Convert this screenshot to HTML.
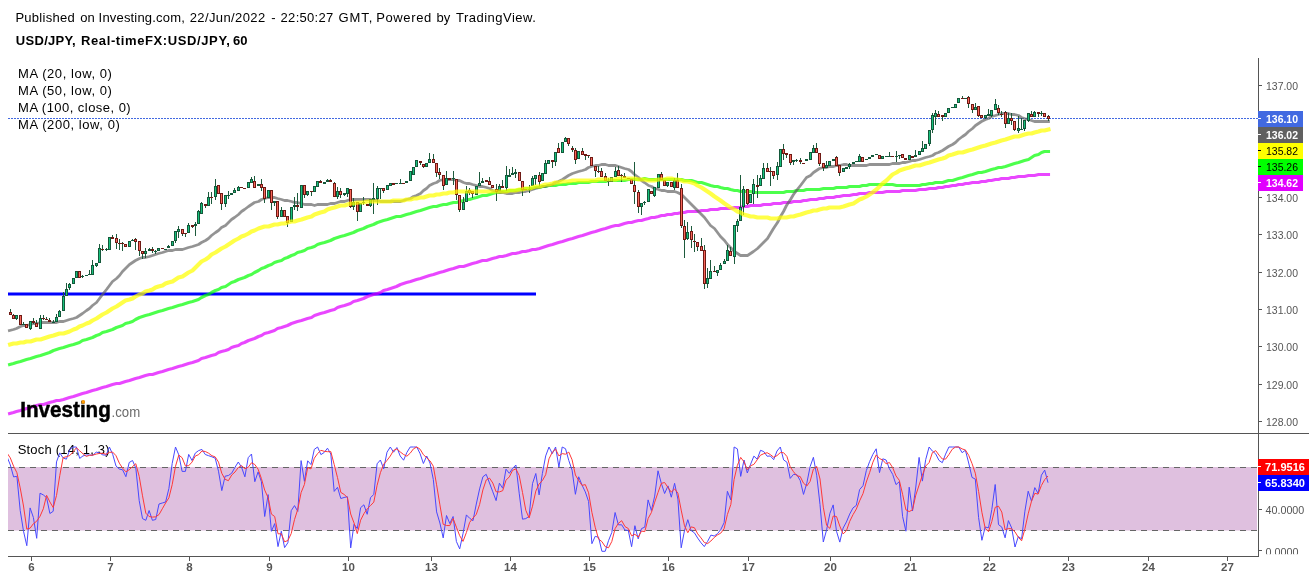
<!DOCTYPE html><html><head><meta charset="utf-8"><title>USD/JPY</title>
<style>html,body{margin:0;padding:0;background:#fff;overflow:hidden}svg{display:block}text{font-family:"Liberation Sans",Arial,sans-serif}</style></head><body>
<svg width="1316" height="580" viewBox="0 0 1316 580">
<rect width="1316" height="580" fill="#fff"/>
<text y="22" font-size="13" fill="#000"><tspan x="15.4" letter-spacing="0.28">Published </tspan><tspan x="80.2" letter-spacing="0.00">on </tspan><tspan x="98.6" letter-spacing="0.18">Investing.com, </tspan><tspan x="189.7" letter-spacing="0.39">22/Jun/2022 </tspan><tspan x="271.3" letter-spacing="1.00">- </tspan><tspan x="280.6" letter-spacing="0.29">22:50:27 </tspan><tspan x="338.5" letter-spacing="0.95">GMT, </tspan><tspan x="376.2" letter-spacing="0.62">Powered </tspan><tspan x="436.5" letter-spacing="0.00">by </tspan><tspan x="456.0" letter-spacing="0.49">TradingView.</tspan></text>
<text y="45" font-size="13" font-weight="bold" fill="#000"><tspan x="15.8" letter-spacing="0.3">USD/JPY, </tspan><tspan x="81" letter-spacing="0.61">Real-timeFX:USD/JPY, </tspan><tspan x="233.1">60</tspan></text>
<rect x="8" y="467" width="1249" height="63.5" fill="#dfc0df"/>
<path d="M8 467.5H1257M8 530.5H1257" stroke="#666" stroke-width="1" stroke-dasharray="6 5" fill="none"/>
<path d="M8 118.5H1258" stroke="#4169e1" stroke-width="1" stroke-dasharray="2 1" fill="none" shape-rendering="crispEdges"/>
<path d="M8 294H536" stroke="#0000ff" stroke-width="3" fill="none"/>
<path d="M9.6 364.5L13.5 363.5L16.5 362.5L20.5 361.5L23.5 360.5L26.5 359.5L30.5 358.5L33.5 357.5L36.5 356.5L40.5 355.5L43.5 354.5L46.5 353.5L49.5 352.5L53.5 350.5L56.5 349.5L59.5 348.5L63.5 347.5L66.5 346.5L69.5 345.5L73.5 344.5L76.5 343.5L79.5 342.5L82.5 340.5L86.5 339.5L89.5 338.5L92.5 337.5L96.5 335.5L99.5 334.5L102.5 332.5L106.5 331.5L109.5 330.5L112.5 329.5L116.5 327.5L119.5 326.5L122.5 325.5L125.5 323.5L129.5 322.5L132.5 321.5L135.5 319.5L139.5 317.5L142.5 316.5L145.5 315.5L149.5 314.5L152.5 313.5L155.5 312.5L158.5 311.5L162.5 310.5L165.5 309.5L168.5 308.5L172.5 307.5L175.5 306.5L178.5 305.5L182.5 304.5L185.5 303.5L188.5 302.5L192.5 301.5L195.5 300.5L198.5 299.5L201.5 297.5L205.5 295.5L208.5 294.5L211.5 292.5L215.5 290.5L218.5 289.5L221.5 287.5L225.5 286.5L228.5 284.5L231.5 282.5L234.5 281.5L238.5 279.5L241.5 278.5L244.5 277.5L248.5 275.5L251.5 274.5L254.5 272.5L258.5 270.5L261.5 268.5L264.5 267.5L268.5 265.5L271.5 264.5L274.5 262.5L277.5 261.5L281.5 260.5L284.5 258.5L287.5 257.5L291.5 255.5L294.5 254.5L297.5 252.5L301.5 251.5L304.5 250.5L307.5 248.5L311.5 247.5L314.5 246.5L317.5 244.5L320.5 243.5L324.5 242.5L327.5 241.5L330.5 240.5L334.5 238.5L337.5 237.5L340.5 236.5L344.5 235.5L347.5 234.5L350.5 233.5L353.5 232.5L357.5 230.5L360.5 229.5L363.5 228.5L367.5 226.5L370.5 225.5L373.5 224.5L377.5 222.5L380.5 221.5L383.5 220.5L387.5 219.5L390.5 218.5L393.5 217.5L396.5 216.5L400.5 216.5L403.5 215.5L406.5 214.5L410.5 213.5L413.5 212.5L416.5 211.5L420.5 210.5L423.5 209.5L426.5 208.5L429.5 207.5L433.5 206.5L436.5 206.5L439.5 205.5L443.5 204.5L446.5 204.5L449.5 203.5L453.5 202.5L456.5 202.5L459.5 201.5L463.5 200.5L466.5 199.5L469.5 199.5L472.5 198.5L476.5 197.5L479.5 196.5L482.5 195.5L486.5 195.5L489.5 194.5L492.5 193.5L496.5 192.5L499.5 192.5L502.5 191.5L506.5 191.5L509.5 190.5L512.5 190.5L515.5 190.5L519.5 189.5L522.5 189.5L525.5 188.5L529.5 188.5L532.5 188.5L535.5 187.5L539.5 187.5L542.5 186.5L545.5 186.5L548.5 185.5L552.5 185.5L555.5 185.5L558.5 184.5L562.5 184.5L565.5 184.5L568.5 183.5L572.5 183.5L575.5 183.5L578.5 182.5L582.5 182.5L585.5 182.5L588.5 182.5L591.5 181.5L595.5 181.5L598.5 181.5L601.5 181.5L605.5 181.5L608.5 180.5L611.5 180.5L615.5 180.5L618.5 180.5L621.5 180.5L624.5 180.5L628.5 179.5L631.5 179.5L634.5 179.5L638.5 179.5L641.5 179.5L644.5 178.5L648.5 179.5L651.5 179.5L654.5 179.5L658.5 179.5L661.5 179.5L664.5 179.5L667.5 179.5L671.5 179.5L674.5 179.5L677.5 179.5L681.5 179.5L684.5 180.5L687.5 180.5L691.5 180.5L694.5 181.5L697.5 182.5L701.5 182.5L704.5 183.5L707.5 184.5L710.5 185.5L714.5 186.5L717.5 186.5L720.5 187.5L724.5 188.5L727.5 188.5L730.5 189.5L734.5 190.5L737.5 190.5L740.5 191.5L743.5 191.5L747.5 191.5L750.5 191.5L753.5 192.5L757.5 192.5L760.5 192.5L763.5 192.5L767.5 192.5L770.5 192.5L773.5 192.5L777.5 192.5L780.5 192.5L783.5 192.5L786.5 191.5L790.5 191.5L793.5 191.5L796.5 190.5L800.5 190.5L803.5 190.5L806.5 189.5L810.5 189.5L813.5 189.5L816.5 189.5L819.5 189.5L823.5 188.5L826.5 188.5L829.5 188.5L833.5 188.5L836.5 187.5L839.5 187.5L843.5 187.5L846.5 187.5L849.5 186.5L853.5 186.5L856.5 186.5L859.5 186.5L862.5 185.5L866.5 185.5L869.5 184.5L872.5 184.5L876.5 184.5L879.5 184.5L882.5 184.5L886.5 184.5L889.5 184.5L892.5 184.5L896.5 185.5L899.5 185.5L902.5 185.5L905.5 185.5L909.5 185.5L912.5 185.5L915.5 185.5L919.5 185.5L922.5 184.5L925.5 184.5L929.5 183.5L932.5 183.5L935.5 182.5L938.5 182.5L942.5 182.5L945.5 181.5L948.5 180.5L952.5 180.5L955.5 179.5L958.5 178.5L962.5 177.5L965.5 176.5L968.5 175.5L972.5 174.5L975.5 173.5L978.5 172.5L981.5 172.5L985.5 171.5L988.5 170.5L991.5 169.5L995.5 168.5L998.5 167.5L1001.5 167.5L1005.5 166.5L1008.5 165.5L1011.5 164.5L1014.5 163.5L1018.5 162.5L1021.5 161.5L1024.5 160.5L1028.5 159.5L1031.5 157.5L1034.5 155.5L1038.5 154.5L1041.5 152.5L1044.5 151.5L1048.5 151.5" stroke="#00ff00" stroke-width="3.1" fill="none" stroke-linejoin="round" stroke-linecap="square" opacity="0.7"/>
<path d="M9.6 413.5L13.5 412.5L16.5 411.5L20.5 410.5L23.5 409.5L26.5 408.5L30.5 407.5L33.5 406.5L36.5 405.5L40.5 404.5L43.5 404.5L46.5 403.5L49.5 402.5L53.5 401.5L56.5 400.5L59.5 400.5L63.5 399.5L66.5 398.5L69.5 397.5L73.5 396.5L76.5 395.5L79.5 394.5L82.5 393.5L86.5 392.5L89.5 391.5L92.5 390.5L96.5 389.5L99.5 388.5L102.5 387.5L106.5 386.5L109.5 385.5L112.5 384.5L116.5 383.5L119.5 383.5L122.5 382.5L125.5 381.5L129.5 380.5L132.5 379.5L135.5 378.5L139.5 377.5L142.5 376.5L145.5 375.5L149.5 374.5L152.5 374.5L155.5 373.5L158.5 372.5L162.5 371.5L165.5 370.5L168.5 369.5L172.5 368.5L175.5 367.5L178.5 366.5L182.5 365.5L185.5 364.5L188.5 363.5L192.5 362.5L195.5 361.5L198.5 360.5L201.5 358.5L205.5 357.5L208.5 356.5L211.5 355.5L215.5 354.5L218.5 352.5L221.5 351.5L225.5 350.5L228.5 349.5L231.5 347.5L234.5 346.5L238.5 345.5L241.5 343.5L244.5 342.5L248.5 340.5L251.5 339.5L254.5 338.5L258.5 336.5L261.5 335.5L264.5 333.5L268.5 332.5L271.5 331.5L274.5 330.5L277.5 328.5L281.5 327.5L284.5 326.5L287.5 325.5L291.5 323.5L294.5 322.5L297.5 321.5L301.5 320.5L304.5 319.5L307.5 318.5L311.5 317.5L314.5 315.5L317.5 314.5L320.5 313.5L324.5 312.5L327.5 311.5L330.5 310.5L334.5 309.5L337.5 307.5L340.5 306.5L344.5 305.5L347.5 304.5L350.5 303.5L353.5 301.5L357.5 300.5L360.5 299.5L363.5 298.5L367.5 296.5L370.5 295.5L373.5 294.5L377.5 293.5L380.5 292.5L383.5 290.5L387.5 289.5L390.5 288.5L393.5 287.5L396.5 286.5L400.5 284.5L403.5 283.5L406.5 282.5L410.5 281.5L413.5 280.5L416.5 279.5L420.5 278.5L423.5 277.5L426.5 276.5L429.5 275.5L433.5 274.5L436.5 273.5L439.5 272.5L443.5 271.5L446.5 270.5L449.5 269.5L453.5 268.5L456.5 267.5L459.5 266.5L463.5 266.5L466.5 265.5L469.5 264.5L472.5 263.5L476.5 262.5L479.5 261.5L482.5 260.5L486.5 260.5L489.5 259.5L492.5 258.5L496.5 257.5L499.5 256.5L502.5 256.5L506.5 255.5L509.5 254.5L512.5 253.5L515.5 253.5L519.5 252.5L522.5 251.5L525.5 251.5L529.5 250.5L532.5 249.5L535.5 249.5L539.5 248.5L542.5 247.5L545.5 246.5L548.5 245.5L552.5 244.5L555.5 243.5L558.5 242.5L562.5 241.5L565.5 240.5L568.5 239.5L572.5 238.5L575.5 237.5L578.5 236.5L582.5 235.5L585.5 234.5L588.5 233.5L591.5 232.5L595.5 231.5L598.5 230.5L601.5 229.5L605.5 228.5L608.5 227.5L611.5 226.5L615.5 225.5L618.5 225.5L621.5 224.5L624.5 223.5L628.5 222.5L631.5 222.5L634.5 221.5L638.5 220.5L641.5 220.5L644.5 219.5L648.5 218.5L651.5 217.5L654.5 217.5L658.5 216.5L661.5 215.5L664.5 215.5L667.5 214.5L671.5 214.5L674.5 213.5L677.5 213.5L681.5 212.5L684.5 212.5L687.5 211.5L691.5 211.5L694.5 211.5L697.5 211.5L701.5 210.5L704.5 210.5L707.5 210.5L710.5 209.5L714.5 209.5L717.5 209.5L720.5 208.5L724.5 208.5L727.5 208.5L730.5 208.5L734.5 207.5L737.5 207.5L740.5 207.5L743.5 206.5L747.5 206.5L750.5 205.5L753.5 205.5L757.5 205.5L760.5 205.5L763.5 204.5L767.5 204.5L770.5 204.5L773.5 203.5L777.5 203.5L780.5 203.5L783.5 202.5L786.5 202.5L790.5 202.5L793.5 201.5L796.5 201.5L800.5 201.5L803.5 200.5L806.5 200.5L810.5 199.5L813.5 199.5L816.5 199.5L819.5 198.5L823.5 198.5L826.5 197.5L829.5 197.5L833.5 197.5L836.5 196.5L839.5 196.5L843.5 195.5L846.5 195.5L849.5 195.5L853.5 194.5L856.5 194.5L859.5 193.5L862.5 193.5L866.5 193.5L869.5 192.5L872.5 192.5L876.5 192.5L879.5 192.5L882.5 192.5L886.5 191.5L889.5 191.5L892.5 191.5L896.5 191.5L899.5 191.5L902.5 190.5L905.5 190.5L909.5 190.5L912.5 190.5L915.5 190.5L919.5 189.5L922.5 189.5L925.5 189.5L929.5 188.5L932.5 188.5L935.5 188.5L938.5 187.5L942.5 187.5L945.5 186.5L948.5 186.5L952.5 185.5L955.5 185.5L958.5 184.5L962.5 184.5L965.5 183.5L968.5 183.5L972.5 182.5L975.5 182.5L978.5 182.5L981.5 181.5L985.5 181.5L988.5 180.5L991.5 180.5L995.5 179.5L998.5 179.5L1001.5 178.5L1005.5 178.5L1008.5 178.5L1011.5 177.5L1014.5 177.5L1018.5 176.5L1021.5 176.5L1024.5 176.5L1028.5 175.5L1031.5 175.5L1034.5 175.5L1038.5 174.5L1041.5 174.5L1044.5 174.5L1048.5 174.5" stroke="#e100ff" stroke-width="3.1" fill="none" stroke-linejoin="round" stroke-linecap="square" opacity="0.72"/>
<path d="M9.4 330.5L13.5 329.5L16.5 328.5L20.5 326.5L23.5 325.5L26.5 325.5L30.5 324.5L33.5 323.5L36.5 323.5L40.5 322.5L43.5 322.5L46.5 322.5L49.5 322.5L53.5 322.5L56.5 322.5L59.5 321.5L63.5 321.5L66.5 320.5L69.5 319.5L73.5 318.5L76.5 317.5L79.5 315.5L82.5 313.5L86.5 310.5L89.5 308.5L92.5 305.5L96.5 302.5L99.5 298.5L102.5 294.5L106.5 289.5L109.5 285.5L112.5 281.5L116.5 278.5L119.5 275.5L122.5 271.5L125.5 268.5L129.5 264.5L132.5 262.5L135.5 260.5L139.5 258.5L142.5 257.5L145.5 257.5L149.5 256.5L152.5 255.5L155.5 254.5L158.5 253.5L162.5 252.5L165.5 251.5L168.5 250.5L172.5 250.5L175.5 249.5L178.5 249.5L182.5 249.5L185.5 248.5L188.5 247.5L192.5 246.5L195.5 245.5L198.5 244.5L201.5 242.5L205.5 240.5L208.5 238.5L211.5 235.5L215.5 232.5L218.5 230.5L221.5 227.5L225.5 225.5L228.5 222.5L231.5 219.5L234.5 217.5L238.5 214.5L241.5 211.5L244.5 209.5L248.5 206.5L251.5 204.5L254.5 202.5L258.5 201.5L261.5 199.5L264.5 198.5L268.5 197.5L271.5 197.5L274.5 197.5L277.5 198.5L281.5 199.5L284.5 200.5L287.5 200.5L291.5 201.5L294.5 202.5L297.5 202.5L301.5 203.5L304.5 204.5L307.5 204.5L311.5 204.5L314.5 205.5L317.5 204.5L320.5 204.5L324.5 204.5L327.5 204.5L330.5 203.5L334.5 203.5L337.5 202.5L340.5 201.5L344.5 201.5L347.5 200.5L350.5 199.5L353.5 199.5L357.5 199.5L360.5 199.5L363.5 199.5L367.5 199.5L370.5 199.5L373.5 200.5L377.5 200.5L380.5 201.5L383.5 201.5L387.5 201.5L390.5 201.5L393.5 201.5L396.5 201.5L400.5 201.5L403.5 200.5L406.5 199.5L410.5 198.5L413.5 196.5L416.5 195.5L420.5 193.5L423.5 190.5L426.5 188.5L429.5 185.5L433.5 183.5L436.5 182.5L439.5 180.5L443.5 179.5L446.5 179.5L449.5 179.5L453.5 179.5L456.5 180.5L459.5 180.5L463.5 182.5L466.5 183.5L469.5 183.5L472.5 184.5L476.5 185.5L479.5 186.5L482.5 186.5L486.5 187.5L489.5 188.5L492.5 190.5L496.5 191.5L499.5 192.5L502.5 192.5L506.5 193.5L509.5 193.5L512.5 193.5L515.5 192.5L519.5 192.5L522.5 191.5L525.5 191.5L529.5 190.5L532.5 189.5L535.5 188.5L539.5 187.5L542.5 186.5L545.5 186.5L548.5 185.5L552.5 184.5L555.5 182.5L558.5 181.5L562.5 179.5L565.5 177.5L568.5 175.5L572.5 173.5L575.5 172.5L578.5 171.5L582.5 170.5L585.5 169.5L588.5 167.5L591.5 166.5L595.5 165.5L598.5 165.5L601.5 164.5L605.5 164.5L608.5 165.5L611.5 165.5L615.5 165.5L618.5 166.5L621.5 167.5L624.5 168.5L628.5 169.5L631.5 171.5L634.5 174.5L638.5 177.5L641.5 180.5L644.5 182.5L648.5 185.5L651.5 186.5L654.5 188.5L658.5 189.5L661.5 190.5L664.5 190.5L667.5 191.5L671.5 191.5L674.5 191.5L677.5 192.5L681.5 194.5L684.5 197.5L687.5 200.5L691.5 204.5L694.5 207.5L697.5 210.5L701.5 214.5L704.5 217.5L707.5 221.5L710.5 225.5L714.5 228.5L717.5 232.5L720.5 236.5L724.5 240.5L727.5 244.5L730.5 247.5L734.5 251.5L737.5 253.5L740.5 255.5L743.5 255.5L747.5 255.5L750.5 253.5L753.5 251.5L757.5 248.5L760.5 245.5L763.5 242.5L767.5 238.5L770.5 233.5L773.5 228.5L777.5 222.5L780.5 216.5L783.5 211.5L786.5 205.5L790.5 199.5L793.5 194.5L796.5 190.5L800.5 185.5L803.5 181.5L806.5 177.5L810.5 175.5L813.5 172.5L816.5 170.5L819.5 168.5L823.5 167.5L826.5 167.5L829.5 166.5L833.5 166.5L836.5 165.5L839.5 165.5L843.5 164.5L846.5 164.5L849.5 165.5L853.5 165.5L856.5 165.5L859.5 165.5L862.5 165.5L866.5 165.5L869.5 164.5L872.5 164.5L876.5 164.5L879.5 164.5L882.5 164.5L886.5 164.5L889.5 164.5L892.5 163.5L896.5 163.5L899.5 163.5L902.5 162.5L905.5 162.5L909.5 161.5L912.5 160.5L915.5 160.5L919.5 159.5L922.5 158.5L925.5 157.5L929.5 156.5L932.5 155.5L935.5 153.5L938.5 152.5L942.5 150.5L945.5 148.5L948.5 146.5L952.5 144.5L955.5 142.5L958.5 139.5L962.5 136.5L965.5 134.5L968.5 131.5L972.5 128.5L975.5 125.5L978.5 123.5L981.5 121.5L985.5 119.5L988.5 118.5L991.5 116.5L995.5 115.5L998.5 114.5L1001.5 113.5L1005.5 113.5L1008.5 113.5L1011.5 114.5L1014.5 114.5L1018.5 115.5L1021.5 117.5L1024.5 118.5L1028.5 119.5L1031.5 120.5L1034.5 121.5L1038.5 121.5L1041.5 121.5L1044.5 121.5L1048.5 121.5" stroke="#606060" stroke-width="2.8" fill="none" stroke-linejoin="round" stroke-linecap="square" opacity="0.68"/>
<path d="M10 309h1v6h-1zM13 314h1v5h-1zM16 315h1v5h-1zM20 315h1v10h-1zM23 322h1v3h-1zM26 324h1v4h-1zM30 321h1v9h-1zM33 318h1v6h-1zM36 320h1v7h-1zM40 315h1v14h-1zM43 315h1v5h-1zM46 317h1v3h-1zM49 318h1v4h-1zM53 320h1v3h-1zM56 314h1v8h-1zM59 310h1v7h-1zM63 292h1v19h-1zM66 283h1v13h-1zM69 283h1v7h-1zM73 278h1v6h-1zM76 271h1v7h-1zM79 271h1v7h-1zM82 275h1v3h-1zM86 275h1v1h-1zM89 270h1v5h-1zM92 260h1v15h-1zM96 263h1v4h-1zM99 244h1v19h-1zM102 245h1v6h-1zM106 248h1v3h-1zM109 237h1v13h-1zM112 235h1v4h-1zM116 234h1v15h-1zM119 239h1v11h-1zM122 242h1v9h-1zM125 244h1v3h-1zM129 241h1v6h-1zM132 239h1v2h-1zM135 238h1v12h-1zM139 241h1v15h-1zM142 251h1v8h-1zM145 248h1v10h-1zM149 248h1v3h-1zM152 247h1v6h-1zM155 250h1v4h-1zM158 248h1v3h-1zM162 248h1v1h-1zM165 249h1v1h-1zM168 245h1v3h-1zM172 241h1v5h-1zM175 231h1v12h-1zM178 226h1v12h-1zM182 229h1v7h-1zM185 233h1v4h-1zM188 223h1v10h-1zM192 225h1v3h-1zM195 222h1v14h-1zM198 210h1v14h-1zM201 202h1v12h-1zM205 204h1v4h-1zM208 192h1v14h-1zM211 192h1v12h-1zM215 179h1v21h-1zM218 185h1v9h-1zM221 193h1v17h-1zM225 195h1v12h-1zM228 191h1v8h-1zM231 193h1v2h-1zM234 188h1v5h-1zM238 186h1v5h-1zM241 187h1v1h-1zM244 188h1v1h-1zM248 182h1v6h-1zM251 177h1v6h-1zM254 176h1v12h-1zM258 184h1v2h-1zM261 179h1v12h-1zM264 187h1v16h-1zM268 190h1v8h-1zM271 190h1v20h-1zM274 201h1v5h-1zM277 201h1v18h-1zM281 207h1v10h-1zM284 210h1v7h-1zM287 216h1v11h-1zM291 207h1v15h-1zM294 197h1v13h-1zM297 193h1v18h-1zM301 185h1v23h-1zM304 185h1v13h-1zM307 191h1v5h-1zM311 191h1v5h-1zM314 186h1v6h-1zM317 181h1v6h-1zM320 180h1v3h-1zM324 182h1v2h-1zM327 179h1v3h-1zM330 179h1v3h-1zM334 182h1v15h-1zM337 187h1v12h-1zM340 188h1v10h-1zM344 193h1v3h-1zM347 188h1v9h-1zM350 189h1v19h-1zM353 198h1v12h-1zM357 202h1v19h-1zM360 203h1v9h-1zM363 197h1v8h-1zM367 204h1v2h-1zM370 199h1v8h-1zM373 183h1v31h-1zM377 186h1v19h-1zM380 188h1v11h-1zM383 188h1v5h-1zM387 185h1v5h-1zM390 183h1v3h-1zM393 183h1v2h-1zM396 183h1v1h-1zM400 179h1v5h-1zM403 183h1v1h-1zM406 181h1v2h-1zM410 171h1v10h-1zM413 167h1v8h-1zM416 160h1v7h-1zM420 161h1v4h-1zM423 164h1v4h-1zM426 163h1v4h-1zM429 153h1v10h-1zM433 154h1v9h-1zM436 163h1v14h-1zM439 168h1v11h-1zM443 175h1v15h-1zM446 171h1v14h-1zM449 178h1v2h-1zM453 171h1v14h-1zM456 179h1v21h-1zM459 195h1v17h-1zM463 197h1v13h-1zM466 186h1v16h-1zM469 188h1v7h-1zM472 191h1v7h-1zM476 186h1v9h-1zM479 172h1v14h-1zM482 178h1v5h-1zM486 180h1v2h-1zM489 177h1v8h-1zM492 185h1v3h-1zM496 184h1v17h-1zM499 184h1v7h-1zM502 180h1v8h-1zM506 166h1v25h-1zM509 169h1v8h-1zM512 167h1v8h-1zM515 169h1v9h-1zM519 172h1v9h-1zM522 181h1v15h-1zM525 189h1v1h-1zM529 185h1v8h-1zM532 176h1v10h-1zM535 175h1v10h-1zM539 172h1v14h-1zM542 173h1v8h-1zM545 160h1v14h-1zM548 160h1v4h-1zM552 160h1v8h-1zM555 152h1v14h-1zM558 143h1v10h-1zM562 142h1v11h-1zM565 137h1v5h-1zM568 138h1v8h-1zM572 146h1v6h-1zM575 148h1v16h-1zM578 151h1v8h-1zM582 148h1v7h-1zM585 154h1v6h-1zM588 155h1v3h-1zM591 157h1v9h-1zM595 166h1v11h-1zM598 166h1v7h-1zM601 168h1v9h-1zM605 173h1v8h-1zM608 178h1v8h-1zM611 177h1v5h-1zM615 167h1v10h-1zM618 166h1v10h-1zM621 174h1v8h-1zM624 173h1v5h-1zM628 178h1v1h-1zM631 179h1v5h-1zM634 162h1v42h-1zM638 190h1v23h-1zM641 203h1v12h-1zM644 201h1v4h-1zM648 189h1v13h-1zM651 191h1v3h-1zM654 187h1v10h-1zM658 174h1v14h-1zM661 172h1v8h-1zM664 180h1v6h-1zM667 182h1v5h-1zM671 182h1v5h-1zM674 178h1v12h-1zM677 173h1v15h-1zM681 184h1v44h-1zM684 220h1v38h-1zM687 222h1v18h-1zM691 226h1v22h-1zM694 234h1v18h-1zM697 242h1v9h-1zM701 238h1v13h-1zM704 245h1v44h-1zM707 268h1v20h-1zM710 260h1v19h-1zM714 266h1v6h-1zM717 270h1v6h-1zM720 263h1v7h-1zM724 259h1v5h-1zM727 245h1v16h-1zM730 247h1v9h-1zM734 225h1v39h-1zM737 219h1v13h-1zM740 175h1v46h-1zM743 186h1v29h-1zM747 189h1v16h-1zM750 194h1v9h-1zM753 179h1v25h-1zM757 175h1v23h-1zM760 175h1v11h-1zM763 163h1v16h-1zM767 163h1v9h-1zM770 167h1v19h-1zM773 171h1v8h-1zM777 162h1v18h-1zM780 149h1v18h-1zM783 144h1v16h-1zM786 153h1v5h-1zM790 154h1v11h-1zM793 160h1v5h-1zM796 159h1v3h-1zM800 158h1v6h-1zM803 163h1v1h-1zM806 159h1v2h-1zM810 152h1v8h-1zM813 145h1v8h-1zM816 143h1v10h-1zM819 153h1v13h-1zM823 163h1v8h-1zM826 161h1v7h-1zM829 161h1v5h-1zM833 159h1v2h-1zM836 156h1v10h-1zM839 165h1v11h-1zM843 168h1v4h-1zM846 167h1v2h-1zM849 163h1v6h-1zM853 162h1v2h-1zM856 161h1v1h-1zM859 154h1v8h-1zM862 157h1v5h-1zM866 159h1v1h-1zM869 157h1v2h-1zM872 155h1v2h-1zM876 154h1v1h-1zM879 155h1v4h-1zM882 156h1v3h-1zM886 156h1v1h-1zM889 152h1v5h-1zM892 156h1v1h-1zM896 151h1v11h-1zM899 155h1v4h-1zM902 154h1v4h-1zM905 158h1v2h-1zM909 155h1v5h-1zM912 156h1v2h-1zM915 150h1v7h-1zM919 151h1v4h-1zM922 141h1v11h-1zM925 144h1v5h-1zM929 130h1v16h-1zM932 113h1v20h-1zM935 110h1v15h-1zM938 111h1v6h-1zM942 115h1v6h-1zM945 113h1v4h-1zM948 108h1v5h-1zM952 107h1v1h-1zM955 104h1v4h-1zM958 98h1v5h-1zM962 96h1v3h-1zM965 98h1v1h-1zM968 96h1v12h-1zM972 104h1v9h-1zM975 103h1v7h-1zM978 106h1v11h-1zM981 115h1v3h-1zM985 115h1v4h-1zM988 109h1v7h-1zM991 110h1v7h-1zM995 99h1v11h-1zM998 105h1v10h-1zM1001 111h1v6h-1zM1005 111h1v17h-1zM1008 113h1v11h-1zM1011 113h1v12h-1zM1014 121h1v10h-1zM1018 116h1v17h-1zM1021 118h1v12h-1zM1024 120h1v11h-1zM1028 113h1v9h-1zM1031 111h1v6h-1zM1034 111h1v6h-1zM1038 112h1v5h-1zM1041 111h1v5h-1zM1044 113h1v4h-1zM1048 115h1v6h-1z" fill="#1d5a3c" shape-rendering="crispEdges"/>
<path d="M15 315h3v4h-3zM22 324h3v1h-3zM29 321h3v8h-3zM39 318h3v11h-3zM52 322h3v1h-3zM55 317h3v5h-3zM58 311h3v6h-3zM62 296h3v15h-3zM65 289h3v7h-3zM68 284h3v4h-3zM72 278h3v6h-3zM75 271h3v7h-3zM81 276h3v1h-3zM85 275h3v1h-3zM88 274h3v1h-3zM91 265h3v10h-3zM95 263h3v3h-3zM98 248h3v15h-3zM105 249h3v1h-3zM108 237h3v13h-3zM128 241h3v6h-3zM131 240h3v1h-3zM144 251h3v3h-3zM148 249h3v2h-3zM154 251h3v1h-3zM157 248h3v3h-3zM164 249h3v1h-3zM167 246h3v2h-3zM171 241h3v5h-3zM174 231h3v10h-3zM177 229h3v3h-3zM187 225h3v8h-3zM194 224h3v2h-3zM197 211h3v13h-3zM200 203h3v11h-3zM207 197h3v9h-3zM214 186h3v11h-3zM224 195h3v9h-3zM227 195h3v1h-3zM230 193h3v2h-3zM233 190h3v3h-3zM237 187h3v4h-3zM247 182h3v6h-3zM250 179h3v4h-3zM257 184h3v2h-3zM267 190h3v8h-3zM273 201h3v2h-3zM280 210h3v7h-3zM290 207h3v15h-3zM293 205h3v2h-3zM300 185h3v23h-3zM306 191h3v4h-3zM313 186h3v6h-3zM316 181h3v6h-3zM323 182h3v2h-3zM326 180h3v2h-3zM336 191h3v6h-3zM343 193h3v2h-3zM346 188h3v6h-3zM352 202h3v5h-3zM359 203h3v9h-3zM362 202h3v1h-3zM369 199h3v7h-3zM372 198h3v2h-3zM376 188h3v11h-3zM379 188h3v1h-3zM386 185h3v5h-3zM389 183h3v3h-3zM395 183h3v1h-3zM399 183h3v1h-3zM405 181h3v2h-3zM409 171h3v10h-3zM412 167h3v8h-3zM415 160h3v7h-3zM425 163h3v4h-3zM428 159h3v4h-3zM445 178h3v7h-3zM452 178h3v1h-3zM462 202h3v8h-3zM465 191h3v11h-3zM475 186h3v9h-3zM478 183h3v3h-3zM481 181h3v2h-3zM498 186h3v5h-3zM505 175h3v13h-3zM508 175h3v2h-3zM511 173h3v2h-3zM514 172h3v2h-3zM528 189h3v1h-3zM531 178h3v8h-3zM534 175h3v4h-3zM541 173h3v8h-3zM544 163h3v11h-3zM547 160h3v4h-3zM554 152h3v10h-3zM561 142h3v11h-3zM564 138h3v4h-3zM577 151h3v8h-3zM607 181h3v1h-3zM610 177h3v5h-3zM614 171h3v6h-3zM640 203h3v4h-3zM643 202h3v1h-3zM647 189h3v13h-3zM653 187h3v9h-3zM657 174h3v14h-3zM666 182h3v4h-3zM673 180h3v8h-3zM686 232h3v7h-3zM706 278h3v6h-3zM709 271h3v8h-3zM716 270h3v3h-3zM719 265h3v5h-3zM723 261h3v3h-3zM726 250h3v11h-3zM733 225h3v32h-3zM736 221h3v5h-3zM739 207h3v14h-3zM742 189h3v18h-3zM749 194h3v9h-3zM752 184h3v10h-3zM759 178h3v8h-3zM762 168h3v11h-3zM776 166h3v9h-3zM779 149h3v18h-3zM792 160h3v2h-3zM795 160h3v1h-3zM805 159h3v2h-3zM809 152h3v8h-3zM812 148h3v5h-3zM825 165h3v3h-3zM828 161h3v5h-3zM832 159h3v2h-3zM842 168h3v4h-3zM845 167h3v2h-3zM848 164h3v3h-3zM852 162h3v2h-3zM855 161h3v1h-3zM858 156h3v6h-3zM865 159h3v1h-3zM868 157h3v2h-3zM871 155h3v2h-3zM875 154h3v1h-3zM881 156h3v3h-3zM885 156h3v1h-3zM888 156h3v1h-3zM895 156h3v1h-3zM898 155h3v1h-3zM908 155h3v5h-3zM914 155h3v2h-3zM918 151h3v4h-3zM921 148h3v4h-3zM924 144h3v5h-3zM928 130h3v14h-3zM931 115h3v15h-3zM934 113h3v4h-3zM944 113h3v4h-3zM947 108h3v5h-3zM951 107h3v1h-3zM954 104h3v4h-3zM957 98h3v5h-3zM964 98h3v1h-3zM974 107h3v3h-3zM984 115h3v3h-3zM987 114h3v2h-3zM990 110h3v6h-3zM994 104h3v6h-3zM1007 118h3v6h-3zM1017 128h3v3h-3zM1020 129h3v1h-3zM1023 120h3v9h-3zM1027 113h3v8h-3zM1033 112h3v5h-3zM1040 113h3v1h-3z" fill="#14583a" shape-rendering="crispEdges"/>
<path d="M9 312h3v3h-3zM12 315h3v4h-3zM19 315h3v10h-3zM25 324h3v4h-3zM32 321h3v2h-3zM35 323h3v4h-3zM42 318h3v1h-3zM45 319h3v1h-3zM48 320h3v2h-3zM78 271h3v7h-3zM101 249h3v1h-3zM111 237h3v2h-3zM115 238h3v5h-3zM118 243h3v1h-3zM121 243h3v1h-3zM124 244h3v3h-3zM134 239h3v3h-3zM138 241h3v10h-3zM141 251h3v3h-3zM151 249h3v2h-3zM161 248h3v1h-3zM181 229h3v5h-3zM184 233h3v1h-3zM191 225h3v2h-3zM204 204h3v2h-3zM210 197h3v1h-3zM217 185h3v9h-3zM220 193h3v11h-3zM240 187h3v1h-3zM243 188h3v1h-3zM253 181h3v7h-3zM260 184h3v4h-3zM263 187h3v12h-3zM270 190h3v13h-3zM276 201h3v16h-3zM283 210h3v7h-3zM286 216h3v7h-3zM296 205h3v2h-3zM303 185h3v10h-3zM310 191h3v1h-3zM319 181h3v2h-3zM329 180h3v2h-3zM333 183h3v14h-3zM339 191h3v4h-3zM349 189h3v18h-3zM356 202h3v10h-3zM366 204h3v2h-3zM382 188h3v3h-3zM392 183h3v2h-3zM402 183h3v1h-3zM419 161h3v2h-3zM422 164h3v3h-3zM432 159h3v4h-3zM435 163h3v10h-3zM438 172h3v3h-3zM442 175h3v11h-3zM448 178h3v2h-3zM455 179h3v16h-3zM458 195h3v15h-3zM468 190h3v3h-3zM471 191h3v3h-3zM485 180h3v2h-3zM488 181h3v4h-3zM491 185h3v3h-3zM495 189h3v3h-3zM501 186h3v2h-3zM518 172h3v9h-3zM521 181h3v9h-3zM524 189h3v1h-3zM538 175h3v7h-3zM551 160h3v2h-3zM557 148h3v5h-3zM567 138h3v6h-3zM571 148h3v2h-3zM574 150h3v10h-3zM581 151h3v4h-3zM584 154h3v2h-3zM587 155h3v1h-3zM590 157h3v9h-3zM594 166h3v5h-3zM597 171h3v1h-3zM600 171h3v6h-3zM604 176h3v5h-3zM617 170h3v6h-3zM620 175h3v1h-3zM623 176h3v2h-3zM627 178h3v1h-3zM630 179h3v5h-3zM633 185h3v7h-3zM637 192h3v15h-3zM650 191h3v3h-3zM660 174h3v6h-3zM663 180h3v6h-3zM670 182h3v5h-3zM676 180h3v8h-3zM680 188h3v38h-3zM683 226h3v14h-3zM690 231h3v9h-3zM693 241h3v1h-3zM696 242h3v5h-3zM700 246h3v5h-3zM703 250h3v34h-3zM713 271h3v1h-3zM729 251h3v5h-3zM746 189h3v15h-3zM756 185h3v2h-3zM766 168h3v4h-3zM769 171h3v1h-3zM772 171h3v5h-3zM782 149h3v5h-3zM785 153h3v2h-3zM789 154h3v9h-3zM799 160h3v2h-3zM802 163h3v1h-3zM815 148h3v5h-3zM818 153h3v11h-3zM822 163h3v5h-3zM835 157h3v9h-3zM838 165h3v8h-3zM861 157h3v5h-3zM878 155h3v4h-3zM891 156h3v1h-3zM901 154h3v4h-3zM904 158h3v2h-3zM911 156h3v2h-3zM937 114h3v3h-3zM941 115h3v2h-3zM961 98h3v1h-3zM967 97h3v7h-3zM971 104h3v6h-3zM977 106h3v10h-3zM980 115h3v3h-3zM997 108h3v5h-3zM1000 114h3v1h-3zM1004 112h3v12h-3zM1010 118h3v3h-3zM1013 121h3v9h-3zM1030 114h3v3h-3zM1037 112h3v2h-3zM1043 113h3v4h-3zM1047 116h3v3h-3z" fill="#6e1a14" shape-rendering="crispEdges"/>
<path d="M16 316h1v2h-1zM30 322h1v6h-1zM40 319h1v9h-1zM56 318h1v3h-1zM59 312h1v4h-1zM63 297h1v13h-1zM66 290h1v5h-1zM69 285h1v2h-1zM73 279h1v4h-1zM76 272h1v5h-1zM92 266h1v8h-1zM96 264h1v1h-1zM99 249h1v13h-1zM109 238h1v11h-1zM129 242h1v4h-1zM145 252h1v1h-1zM158 249h1v1h-1zM172 242h1v3h-1zM175 232h1v8h-1zM178 230h1v1h-1zM188 226h1v6h-1zM198 212h1v11h-1zM201 204h1v9h-1zM208 198h1v7h-1zM215 187h1v9h-1zM225 196h1v7h-1zM234 191h1v1h-1zM238 188h1v2h-1zM248 183h1v4h-1zM251 180h1v2h-1zM268 191h1v6h-1zM281 211h1v5h-1zM291 208h1v13h-1zM301 186h1v21h-1zM307 192h1v2h-1zM314 187h1v4h-1zM317 182h1v4h-1zM337 192h1v4h-1zM347 189h1v4h-1zM353 203h1v3h-1zM360 204h1v7h-1zM370 200h1v5h-1zM377 189h1v9h-1zM387 186h1v3h-1zM390 184h1v1h-1zM410 172h1v8h-1zM413 168h1v6h-1zM416 161h1v5h-1zM426 164h1v2h-1zM429 160h1v2h-1zM446 179h1v5h-1zM463 203h1v6h-1zM466 192h1v9h-1zM476 187h1v7h-1zM479 184h1v1h-1zM499 187h1v3h-1zM506 176h1v11h-1zM532 179h1v6h-1zM535 176h1v2h-1zM542 174h1v6h-1zM545 164h1v9h-1zM548 161h1v2h-1zM555 153h1v8h-1zM562 143h1v9h-1zM565 139h1v2h-1zM578 152h1v6h-1zM611 178h1v3h-1zM615 172h1v4h-1zM641 204h1v2h-1zM648 190h1v11h-1zM654 188h1v7h-1zM658 175h1v12h-1zM667 183h1v2h-1zM674 181h1v6h-1zM687 233h1v5h-1zM707 279h1v4h-1zM710 272h1v6h-1zM717 271h1v1h-1zM720 266h1v3h-1zM724 262h1v1h-1zM727 251h1v9h-1zM734 226h1v30h-1zM737 222h1v3h-1zM740 208h1v12h-1zM743 190h1v16h-1zM750 195h1v7h-1zM753 185h1v8h-1zM760 179h1v6h-1zM763 169h1v9h-1zM777 167h1v7h-1zM780 150h1v16h-1zM810 153h1v6h-1zM813 149h1v3h-1zM826 166h1v1h-1zM829 162h1v3h-1zM843 169h1v2h-1zM849 165h1v1h-1zM859 157h1v4h-1zM882 157h1v1h-1zM909 156h1v3h-1zM919 152h1v2h-1zM922 149h1v2h-1zM925 145h1v3h-1zM929 131h1v12h-1zM932 116h1v13h-1zM935 114h1v2h-1zM945 114h1v2h-1zM948 109h1v3h-1zM955 105h1v2h-1zM958 99h1v3h-1zM975 108h1v1h-1zM985 116h1v1h-1zM991 111h1v4h-1zM995 105h1v4h-1zM1008 119h1v4h-1zM1018 129h1v1h-1zM1024 121h1v7h-1zM1028 114h1v6h-1zM1034 113h1v3h-1z" fill="#16c07c" shape-rendering="crispEdges"/>
<path d="M10 313h1v1h-1zM13 316h1v2h-1zM20 316h1v8h-1zM26 325h1v2h-1zM36 324h1v2h-1zM79 272h1v5h-1zM116 239h1v3h-1zM125 245h1v1h-1zM135 240h1v1h-1zM139 242h1v8h-1zM142 252h1v1h-1zM182 230h1v3h-1zM218 186h1v7h-1zM221 194h1v9h-1zM254 182h1v5h-1zM261 185h1v2h-1zM264 188h1v10h-1zM271 191h1v11h-1zM277 202h1v14h-1zM284 211h1v5h-1zM287 217h1v5h-1zM304 186h1v8h-1zM334 184h1v12h-1zM340 192h1v2h-1zM350 190h1v16h-1zM357 203h1v8h-1zM383 189h1v1h-1zM423 165h1v1h-1zM433 160h1v2h-1zM436 164h1v8h-1zM439 173h1v1h-1zM443 176h1v9h-1zM456 180h1v14h-1zM459 196h1v13h-1zM469 191h1v1h-1zM472 192h1v1h-1zM489 182h1v2h-1zM492 186h1v1h-1zM496 190h1v1h-1zM519 173h1v7h-1zM522 182h1v7h-1zM539 176h1v5h-1zM558 149h1v3h-1zM568 139h1v4h-1zM575 151h1v8h-1zM582 152h1v2h-1zM591 158h1v7h-1zM595 167h1v3h-1zM601 172h1v4h-1zM605 177h1v3h-1zM618 171h1v4h-1zM631 180h1v3h-1zM634 186h1v5h-1zM638 193h1v13h-1zM651 192h1v1h-1zM661 175h1v4h-1zM664 181h1v4h-1zM671 183h1v3h-1zM677 181h1v6h-1zM681 189h1v36h-1zM684 227h1v12h-1zM691 232h1v7h-1zM697 243h1v3h-1zM701 247h1v3h-1zM704 251h1v32h-1zM730 252h1v3h-1zM747 190h1v13h-1zM767 169h1v2h-1zM773 172h1v3h-1zM783 150h1v3h-1zM790 155h1v7h-1zM816 149h1v3h-1zM819 154h1v9h-1zM823 164h1v3h-1zM836 158h1v7h-1zM839 166h1v6h-1zM862 158h1v3h-1zM879 156h1v2h-1zM902 155h1v2h-1zM938 115h1v1h-1zM968 98h1v5h-1zM972 105h1v4h-1zM978 107h1v8h-1zM981 116h1v1h-1zM998 109h1v3h-1zM1005 113h1v10h-1zM1011 119h1v1h-1zM1014 122h1v7h-1zM1031 115h1v1h-1zM1044 114h1v2h-1zM1048 117h1v1h-1z" fill="#f8665a" shape-rendering="crispEdges"/>
<path d="M10.1 344.5L13.5 343.5L16.5 343.5L20.5 342.5L23.5 342.5L26.5 341.5L30.5 341.5L33.5 340.5L36.5 339.5L40.5 339.5L43.5 338.5L46.5 337.5L49.5 336.5L53.5 335.5L56.5 334.5L59.5 333.5L63.5 333.5L66.5 332.5L69.5 331.5L73.5 329.5L76.5 328.5L79.5 326.5L82.5 325.5L86.5 323.5L89.5 322.5L92.5 320.5L96.5 318.5L99.5 316.5L102.5 314.5L106.5 312.5L109.5 310.5L112.5 308.5L116.5 306.5L119.5 304.5L122.5 302.5L125.5 300.5L129.5 299.5L132.5 298.5L135.5 296.5L139.5 294.5L142.5 293.5L145.5 291.5L149.5 290.5L152.5 289.5L155.5 287.5L158.5 286.5L162.5 285.5L165.5 283.5L168.5 282.5L172.5 281.5L175.5 279.5L178.5 277.5L182.5 276.5L185.5 274.5L188.5 272.5L192.5 270.5L195.5 267.5L198.5 264.5L201.5 261.5L205.5 259.5L208.5 257.5L211.5 254.5L215.5 252.5L218.5 250.5L221.5 248.5L225.5 246.5L228.5 244.5L231.5 242.5L234.5 240.5L238.5 238.5L241.5 236.5L244.5 235.5L248.5 233.5L251.5 231.5L254.5 230.5L258.5 228.5L261.5 227.5L264.5 226.5L268.5 226.5L271.5 225.5L274.5 224.5L277.5 224.5L281.5 223.5L284.5 223.5L287.5 222.5L291.5 221.5L294.5 221.5L297.5 220.5L301.5 219.5L304.5 218.5L307.5 217.5L311.5 216.5L314.5 214.5L317.5 213.5L320.5 212.5L324.5 211.5L327.5 209.5L330.5 208.5L334.5 207.5L337.5 206.5L340.5 205.5L344.5 205.5L347.5 204.5L350.5 203.5L353.5 203.5L357.5 202.5L360.5 202.5L363.5 202.5L367.5 201.5L370.5 201.5L373.5 201.5L377.5 201.5L380.5 201.5L383.5 201.5L387.5 201.5L390.5 201.5L393.5 200.5L396.5 200.5L400.5 200.5L403.5 200.5L406.5 199.5L410.5 199.5L413.5 198.5L416.5 198.5L420.5 197.5L423.5 197.5L426.5 196.5L429.5 195.5L433.5 195.5L436.5 194.5L439.5 194.5L443.5 193.5L446.5 193.5L449.5 192.5L453.5 192.5L456.5 191.5L459.5 191.5L463.5 191.5L466.5 191.5L469.5 191.5L472.5 191.5L476.5 191.5L479.5 191.5L482.5 191.5L486.5 191.5L489.5 191.5L492.5 191.5L496.5 191.5L499.5 191.5L502.5 191.5L506.5 191.5L509.5 190.5L512.5 190.5L515.5 190.5L519.5 189.5L522.5 189.5L525.5 188.5L529.5 188.5L532.5 187.5L535.5 186.5L539.5 186.5L542.5 185.5L545.5 184.5L548.5 184.5L552.5 183.5L555.5 182.5L558.5 182.5L562.5 181.5L565.5 181.5L568.5 181.5L572.5 180.5L575.5 180.5L578.5 180.5L582.5 180.5L585.5 180.5L588.5 180.5L591.5 180.5L595.5 180.5L598.5 179.5L601.5 179.5L605.5 179.5L608.5 179.5L611.5 179.5L615.5 179.5L618.5 178.5L621.5 178.5L624.5 178.5L628.5 178.5L631.5 178.5L634.5 178.5L638.5 179.5L641.5 179.5L644.5 179.5L648.5 180.5L651.5 180.5L654.5 180.5L658.5 179.5L661.5 179.5L664.5 179.5L667.5 178.5L671.5 178.5L674.5 179.5L677.5 179.5L681.5 180.5L684.5 181.5L687.5 181.5L691.5 182.5L694.5 183.5L697.5 185.5L701.5 187.5L704.5 189.5L707.5 191.5L710.5 193.5L714.5 196.5L717.5 198.5L720.5 200.5L724.5 203.5L727.5 205.5L730.5 207.5L734.5 209.5L737.5 211.5L740.5 212.5L743.5 214.5L747.5 215.5L750.5 216.5L753.5 216.5L757.5 217.5L760.5 217.5L763.5 217.5L767.5 217.5L770.5 218.5L773.5 218.5L777.5 218.5L780.5 217.5L783.5 217.5L786.5 217.5L790.5 216.5L793.5 216.5L796.5 215.5L800.5 214.5L803.5 213.5L806.5 212.5L810.5 211.5L813.5 210.5L816.5 210.5L819.5 209.5L823.5 208.5L826.5 208.5L829.5 207.5L833.5 207.5L836.5 207.5L839.5 207.5L843.5 206.5L846.5 205.5L849.5 204.5L853.5 203.5L856.5 201.5L859.5 199.5L862.5 198.5L866.5 196.5L869.5 194.5L872.5 192.5L876.5 189.5L879.5 186.5L882.5 183.5L886.5 180.5L889.5 177.5L892.5 174.5L896.5 172.5L899.5 170.5L902.5 169.5L905.5 168.5L909.5 167.5L912.5 166.5L915.5 165.5L919.5 165.5L922.5 164.5L925.5 163.5L929.5 162.5L932.5 161.5L935.5 160.5L938.5 159.5L942.5 158.5L945.5 157.5L948.5 155.5L952.5 154.5L955.5 153.5L958.5 152.5L962.5 152.5L965.5 151.5L968.5 150.5L972.5 149.5L975.5 148.5L978.5 147.5L981.5 146.5L985.5 145.5L988.5 144.5L991.5 143.5L995.5 142.5L998.5 141.5L1001.5 140.5L1005.5 139.5L1008.5 138.5L1011.5 137.5L1014.5 136.5L1018.5 136.5L1021.5 135.5L1024.5 134.5L1028.5 133.5L1031.5 133.5L1034.5 132.5L1038.5 131.5L1041.5 130.5L1044.5 130.5L1048.5 129.5" stroke="#ffff00" stroke-width="4.1" fill="none" stroke-linejoin="round" stroke-linecap="square" opacity="0.72"/>
<text x="18.1" y="78" font-size="13" fill="#000" letter-spacing="0.56">MA (20, low, 0)</text>
<text x="18.1" y="95" font-size="13" fill="#000" letter-spacing="0.56">MA (50, low, 0)</text>
<text x="18.1" y="112" font-size="13" fill="#000" letter-spacing="0.46">MA (100, close, 0)</text>
<text x="18.1" y="129" font-size="13" fill="#000" letter-spacing="0.57">MA (200, low, 0)</text>
<text x="17.7" y="454" font-size="13" fill="#000" letter-spacing="0.2">Stoch (14, 1, 3)</text>
<clipPath id="cs"><rect x="8" y="434" width="1250" height="122"/></clipPath>
<path d="M7.0 456.7 L10.3 464.9 L13.6 476.9 L16.9 476.3 L20.2 510.4 L23.5 531.2 L26.8 545.7 L30.1 507.9 L33.4 517.5 L36.7 538.3 L40.0 493.2 L43.3 494.9 L46.6 497.7 L49.9 513.5 L53.2 511.3 L56.5 461.9 L59.8 452.9 L63.1 457.9 L66.4 459.2 L69.8 449.5 L73.1 447.0 L76.4 447.0 L79.7 458.4 L83.0 455.9 L86.3 455.0 L89.6 455.0 L92.9 455.3 L96.2 452.1 L99.5 452.9 L102.8 454.9 L106.1 455.2 L109.4 447.0 L112.7 454.3 L116.0 466.0 L119.3 469.0 L122.6 469.8 L125.9 476.7 L129.2 462.5 L132.5 460.5 L135.8 468.0 L139.2 500.6 L142.5 518.6 L145.8 520.3 L149.1 510.5 L152.4 520.3 L155.7 519.5 L159.0 504.0 L162.3 503.0 L165.6 502.0 L168.9 488.5 L172.2 463.4 L175.5 447.0 L178.8 454.9 L182.1 471.4 L185.4 471.4 L188.7 454.4 L192.0 460.5 L195.3 453.1 L198.6 450.6 L201.9 449.4 L205.3 454.5 L208.6 455.7 L211.9 456.8 L215.2 458.2 L218.5 471.2 L221.8 490.6 L225.1 476.2 L228.4 475.5 L231.7 473.2 L235.0 467.3 L238.3 462.0 L241.6 467.4 L244.9 476.8 L248.2 457.7 L251.5 454.0 L254.8 481.7 L258.1 471.9 L261.4 481.7 L264.7 516.5 L268.1 494.6 L271.4 531.3 L274.7 523.6 L278.0 546.6 L281.3 531.2 L284.6 547.6 L287.9 542.7 L291.2 510.7 L294.5 505.6 L297.8 511.4 L301.1 460.6 L304.4 481.3 L307.7 460.8 L311.0 464.6 L314.3 449.4 L317.6 447.0 L320.9 454.6 L324.2 452.5 L327.5 448.2 L330.8 454.0 L334.2 491.4 L337.5 487.3 L340.8 498.5 L344.1 497.5 L347.4 496.7 L350.7 547.9 L354.0 524.3 L357.3 528.5 L360.6 507.7 L363.9 504.8 L367.2 514.3 L370.5 497.7 L373.8 494.4 L377.1 463.8 L380.4 460.0 L383.7 468.9 L387.0 452.2 L390.3 447.0 L393.6 452.2 L396.9 447.5 L400.2 456.0 L403.6 460.2 L406.9 452.4 L410.2 447.0 L413.5 447.0 L416.8 447.0 L420.1 453.7 L423.4 463.5 L426.7 456.0 L430.0 463.1 L433.3 479.4 L436.6 511.9 L439.9 523.0 L443.2 537.9 L446.5 515.5 L449.8 523.5 L453.1 516.5 L456.4 541.5 L459.7 548.9 L463.0 533.6 L466.4 514.9 L469.7 518.3 L473.0 520.7 L476.3 504.0 L479.6 488.9 L482.9 476.8 L486.2 474.3 L489.5 483.0 L492.8 491.8 L496.1 500.6 L499.4 483.2 L502.7 488.2 L506.0 469.2 L509.3 473.3 L512.6 468.4 L515.9 465.0 L519.2 493.2 L522.5 519.2 L525.8 518.6 L529.1 516.3 L532.5 483.6 L535.8 473.5 L539.1 494.9 L542.4 473.4 L545.7 455.9 L549.0 447.0 L552.3 453.6 L555.6 447.0 L558.9 467.0 L562.2 447.0 L565.5 448.7 L568.8 460.5 L572.1 470.2 L575.4 494.3 L578.7 476.8 L582.0 485.0 L585.3 491.9 L588.6 501.5 L591.9 543.7 L595.2 536.3 L598.6 537.3 L601.9 551.3 L605.2 551.3 L608.5 540.7 L611.8 532.5 L615.1 512.5 L618.4 524.8 L621.7 524.8 L625.0 530.1 L628.3 530.4 L631.6 546.7 L634.9 525.7 L638.2 538.9 L641.5 528.6 L644.8 527.1 L648.1 499.9 L651.4 510.5 L654.7 496.1 L658.0 470.8 L661.3 483.3 L664.6 493.5 L668.0 485.9 L671.3 497.2 L674.6 483.3 L677.9 499.1 L681.2 547.8 L684.5 530.5 L687.8 519.7 L691.1 530.5 L694.4 532.8 L697.7 538.1 L701.0 542.8 L704.3 546.6 L707.6 541.4 L710.9 535.1 L714.2 536.0 L717.5 533.7 L720.8 529.5 L724.1 522.7 L727.4 491.3 L730.8 499.9 L734.1 447.0 L737.4 448.9 L740.7 476.4 L744.0 460.0 L747.3 473.0 L750.6 464.2 L753.9 456.1 L757.2 459.2 L760.5 450.3 L763.8 451.6 L767.1 456.2 L770.4 456.0 L773.7 459.7 L777.0 451.0 L780.3 447.0 L783.6 459.9 L786.9 462.2 L790.2 478.4 L793.5 474.4 L796.9 474.7 L800.2 480.5 L803.5 494.4 L806.8 483.2 L810.1 466.7 L813.4 457.3 L816.7 475.2 L820.0 504.5 L823.3 542.0 L826.6 529.9 L829.9 513.4 L833.2 504.9 L836.5 531.3 L839.8 542.1 L843.1 528.1 L846.4 522.0 L849.7 514.1 L853.0 507.9 L856.3 505.4 L859.6 489.6 L863.0 485.7 L866.3 470.7 L869.6 461.6 L872.9 454.3 L876.2 448.8 L879.5 472.6 L882.8 458.8 L886.1 460.0 L889.4 468.7 L892.7 474.4 L896.0 484.6 L899.3 481.7 L902.6 516.5 L905.9 531.2 L909.2 487.2 L912.5 511.0 L915.8 487.0 L919.1 457.4 L922.4 481.1 L925.7 459.6 L929.1 447.0 L932.4 451.1 L935.7 453.9 L939.0 460.4 L942.3 462.7 L945.6 454.1 L948.9 447.0 L952.2 447.0 L955.5 447.0 L958.8 447.0 L962.1 452.7 L965.4 450.2 L968.7 463.0 L972.0 477.4 L975.3 479.1 L978.6 517.6 L981.9 540.3 L985.2 527.0 L988.5 527.9 L991.8 509.6 L995.2 484.5 L998.5 524.6 L1001.8 527.1 L1005.1 537.8 L1008.4 520.6 L1011.7 528.0 L1015.0 547.0 L1018.3 536.6 L1021.6 538.9 L1024.9 511.2 L1028.2 491.2 L1031.5 501.2 L1034.8 487.6 L1038.1 493.5 L1041.4 475.2 L1044.7 470.1 L1048.0 482.7" stroke="#4848ff" stroke-width="1" fill="none" stroke-linejoin="round" clip-path="url(#cs)"/>
<path d="M7.0 453.0 L10.3 457.9 L13.6 466.2 L16.9 472.7 L20.2 487.9 L23.5 506.0 L26.8 529.1 L30.1 528.2 L33.4 523.7 L36.7 521.2 L40.0 516.3 L43.3 508.8 L46.6 495.3 L49.9 502.0 L53.2 507.5 L56.5 495.5 L59.8 475.4 L63.1 457.6 L66.4 456.7 L69.8 455.5 L73.1 451.9 L76.4 447.8 L79.7 450.8 L83.0 453.8 L86.3 456.4 L89.6 455.3 L92.9 455.1 L96.2 454.1 L99.5 453.4 L102.8 453.3 L106.1 454.3 L109.4 452.4 L112.7 452.1 L116.0 455.7 L119.3 463.1 L122.6 468.2 L125.9 471.8 L129.2 469.7 L132.5 466.6 L135.8 463.7 L139.2 476.4 L142.5 495.8 L145.8 513.2 L149.1 516.5 L152.4 517.1 L155.7 516.8 L159.0 514.6 L162.3 508.8 L165.6 503.0 L168.9 497.8 L172.2 484.6 L175.5 466.3 L178.8 455.1 L182.1 457.7 L185.4 465.9 L188.7 465.7 L192.0 462.1 L195.3 456.0 L198.6 454.7 L201.9 451.0 L205.3 451.5 L208.6 453.2 L211.9 455.7 L215.2 456.9 L218.5 462.1 L221.8 473.3 L225.1 479.3 L228.4 480.7 L231.7 475.0 L235.0 472.0 L238.3 467.5 L241.6 465.6 L244.9 468.7 L248.2 467.3 L251.5 462.8 L254.8 464.5 L258.1 469.2 L261.4 478.5 L264.7 490.1 L268.1 497.6 L271.4 514.1 L274.7 516.5 L278.0 533.8 L281.3 533.8 L284.6 541.8 L287.9 540.5 L291.2 533.6 L294.5 519.6 L297.8 509.2 L301.1 492.6 L304.4 484.5 L307.7 467.6 L311.0 468.9 L314.3 458.2 L317.6 453.6 L320.9 450.3 L324.2 451.3 L327.5 451.7 L330.8 451.6 L334.2 464.5 L337.5 477.6 L340.8 492.4 L344.1 494.4 L347.4 497.5 L350.7 514.0 L354.0 522.9 L357.3 533.6 L360.6 520.2 L363.9 513.7 L367.2 508.9 L370.5 505.6 L373.8 502.1 L377.1 485.3 L380.4 472.7 L383.7 464.2 L387.0 460.4 L390.3 456.0 L393.6 450.4 L396.9 448.9 L400.2 451.9 L403.6 454.5 L406.9 456.2 L410.2 453.2 L413.5 448.8 L416.8 447.0 L420.1 449.2 L423.4 454.7 L426.7 457.7 L430.0 460.9 L433.3 466.2 L436.6 484.8 L439.9 504.8 L443.2 524.3 L446.5 525.5 L449.8 525.6 L453.1 518.5 L456.4 527.2 L459.7 535.7 L463.0 541.4 L466.4 532.5 L469.7 522.3 L473.0 518.0 L476.3 514.3 L479.6 504.5 L482.9 489.9 L486.2 480.0 L489.5 478.1 L492.8 483.0 L496.1 491.8 L499.4 491.9 L502.7 490.7 L506.0 480.2 L509.3 476.9 L512.6 470.3 L515.9 468.9 L519.2 475.5 L522.5 492.5 L525.8 510.3 L529.1 518.0 L532.5 506.2 L535.8 491.1 L539.1 484.0 L542.4 480.6 L545.7 474.7 L549.0 458.8 L552.3 452.2 L555.6 449.2 L558.9 455.9 L562.2 453.6 L565.5 454.2 L568.8 452.1 L572.1 459.8 L575.4 475.0 L578.7 480.5 L582.0 485.4 L585.3 484.6 L588.6 492.8 L591.9 512.4 L595.2 527.2 L598.6 539.1 L601.9 541.6 L605.2 546.6 L608.5 547.8 L611.8 541.5 L615.1 528.6 L618.4 523.3 L621.7 520.7 L625.0 526.6 L628.3 528.5 L631.6 535.8 L634.9 534.3 L638.2 537.1 L641.5 531.1 L644.8 531.6 L648.1 518.5 L651.4 512.5 L654.7 502.2 L658.0 492.5 L661.3 483.4 L664.6 482.5 L668.0 487.5 L671.3 492.2 L674.6 488.8 L677.9 493.2 L681.2 510.1 L684.5 525.8 L687.8 532.7 L691.1 526.9 L694.4 527.7 L697.7 533.8 L701.0 537.9 L704.3 542.5 L707.6 543.6 L710.9 541.0 L714.2 537.5 L717.5 534.9 L720.8 533.1 L724.1 528.7 L727.4 514.5 L730.8 504.6 L734.1 479.4 L737.4 465.3 L740.7 457.4 L744.0 461.8 L747.3 469.8 L750.6 465.7 L753.9 464.4 L757.2 459.8 L760.5 455.2 L763.8 453.7 L767.1 452.7 L770.4 454.6 L773.7 457.3 L777.0 455.6 L780.3 452.6 L783.6 452.7 L786.9 456.4 L790.2 466.8 L793.5 471.7 L796.9 475.8 L800.2 476.5 L803.5 483.2 L806.8 486.0 L810.1 481.4 L813.4 469.1 L816.7 466.4 L820.0 479.0 L823.3 507.2 L826.6 525.4 L829.9 528.4 L833.2 516.0 L836.5 516.5 L839.8 526.1 L843.1 533.9 L846.4 530.8 L849.7 521.4 L853.0 514.7 L856.3 509.1 L859.6 500.9 L863.0 493.6 L866.3 482.0 L869.6 472.7 L872.9 462.2 L876.2 454.9 L879.5 458.5 L882.8 460.1 L886.1 463.8 L889.4 462.5 L892.7 467.7 L896.0 475.9 L899.3 480.3 L902.6 494.3 L905.9 509.8 L909.2 511.6 L912.5 509.8 L915.8 495.1 L919.1 485.1 L922.4 475.2 L925.7 466.0 L929.1 462.6 L932.4 452.6 L935.7 450.6 L939.0 455.1 L942.3 459.0 L945.6 459.1 L948.9 454.6 L952.2 449.3 L955.5 447.0 L958.8 447.0 L962.1 448.9 L965.4 450.0 L968.7 455.3 L972.0 463.5 L975.3 473.2 L978.6 491.4 L981.9 512.3 L985.2 528.3 L988.5 531.7 L991.8 521.5 L995.2 507.3 L998.5 506.2 L1001.8 512.1 L1005.1 529.8 L1008.4 528.5 L1011.7 528.8 L1015.0 531.9 L1018.3 537.2 L1021.6 540.8 L1024.9 528.9 L1028.2 513.8 L1031.5 501.2 L1034.8 493.3 L1038.1 494.1 L1041.4 485.5 L1044.7 479.6 L1048.0 476.0" stroke="#ff3838" stroke-width="1" fill="none" stroke-linejoin="round" clip-path="url(#cs)"/>
<path d="M1258.5 58V556M8 433.5H1309M8 556.5H1259" stroke="#555" stroke-width="1" fill="none" shape-rendering="crispEdges"/>
<text x="1266" y="426.0" font-size="11" fill="#555" textLength="32" lengthAdjust="spacingAndGlyphs">128.00</text>
<text x="1266" y="389.0" font-size="11" fill="#555" textLength="32" lengthAdjust="spacingAndGlyphs">129.00</text>
<text x="1266" y="351.0" font-size="11" fill="#555" textLength="32" lengthAdjust="spacingAndGlyphs">130.00</text>
<text x="1266" y="314.0" font-size="11" fill="#555" textLength="32" lengthAdjust="spacingAndGlyphs">131.00</text>
<text x="1266" y="277.0" font-size="11" fill="#555" textLength="32" lengthAdjust="spacingAndGlyphs">132.00</text>
<text x="1266" y="239.0" font-size="11" fill="#555" textLength="32" lengthAdjust="spacingAndGlyphs">133.00</text>
<text x="1266" y="202.0" font-size="11" fill="#555" textLength="32" lengthAdjust="spacingAndGlyphs">134.00</text>
<text x="1266" y="165.0" font-size="11" fill="#555" textLength="32" lengthAdjust="spacingAndGlyphs">135.00</text>
<text x="1266" y="127.0" font-size="11" fill="#555" textLength="32" lengthAdjust="spacingAndGlyphs">136.00</text>
<text x="1266" y="90.0" font-size="11" fill="#555" textLength="32" lengthAdjust="spacingAndGlyphs">137.00</text>
<text x="1265.5" y="513.6" font-size="11" fill="#555" textLength="38.8" lengthAdjust="spacingAndGlyphs">40.0000</text>
<clipPath id="cb"><rect x="1260" y="540" width="56" height="14.3"/></clipPath>
<text x="1265.5" y="556" font-size="11" fill="#555" textLength="33" lengthAdjust="spacingAndGlyphs" clip-path="url(#cb)">0.0000</text>
<text x="31.5" y="571" font-size="11.5" font-weight="bold" fill="#555" text-anchor="middle">6</text>
<text x="110.5" y="571" font-size="11.5" font-weight="bold" fill="#555" text-anchor="middle">7</text>
<text x="189.5" y="571" font-size="11.5" font-weight="bold" fill="#555" text-anchor="middle">8</text>
<text x="269.5" y="571" font-size="11.5" font-weight="bold" fill="#555" text-anchor="middle">9</text>
<text x="348.5" y="571" font-size="11.5" font-weight="bold" fill="#555" text-anchor="middle">10</text>
<text x="431.5" y="571" font-size="11.5" font-weight="bold" fill="#555" text-anchor="middle">13</text>
<text x="510.5" y="571" font-size="11.5" font-weight="bold" fill="#555" text-anchor="middle">14</text>
<text x="589.5" y="571" font-size="11.5" font-weight="bold" fill="#555" text-anchor="middle">15</text>
<text x="668.5" y="571" font-size="11.5" font-weight="bold" fill="#555" text-anchor="middle">16</text>
<text x="748.5" y="571" font-size="11.5" font-weight="bold" fill="#555" text-anchor="middle">17</text>
<text x="830.5" y="571" font-size="11.5" font-weight="bold" fill="#555" text-anchor="middle">20</text>
<text x="910.5" y="571" font-size="11.5" font-weight="bold" fill="#555" text-anchor="middle">21</text>
<text x="989.5" y="571" font-size="11.5" font-weight="bold" fill="#555" text-anchor="middle">22</text>
<text x="1068.5" y="571" font-size="11.5" font-weight="bold" fill="#555" text-anchor="middle">23</text>
<text x="1148.5" y="571" font-size="11.5" font-weight="bold" fill="#555" text-anchor="middle">24</text>
<text x="1227.5" y="571" font-size="11.5" font-weight="bold" fill="#555" text-anchor="middle">27</text>
<path d="M1259 421.5h3M1259 384.5h3M1259 346.5h3M1259 309.5h3M1259 272.5h3M1259 234.5h3M1259 197.5h3M1259 160.5h3M1259 122.5h3M1259 85.5h3M1259 509.5h3M1259 550.5h3M31.5 557v4M110.5 557v4M189.5 557v4M269.5 557v4M348.5 557v4M431.5 557v4M510.5 557v4M589.5 557v4M668.5 557v4M748.5 557v4M830.5 557v4M910.5 557v4M989.5 557v4M1068.5 557v4M1148.5 557v4M1227.5 557v4" stroke="#555" stroke-width="1" fill="none" shape-rendering="crispEdges"/>
<rect x="1258" y="111" width="45" height="16" fill="#4169e1"/>
<path d="M1258 118.5h3" stroke="#fff" stroke-width="1" shape-rendering="crispEdges"/>
<text x="1266" y="122.9" font-size="11" font-weight="bold" fill="#fff" textLength="32" lengthAdjust="spacingAndGlyphs">136.10</text>
<rect x="1258" y="127" width="45" height="16" fill="#606060"/>
<path d="M1258 134.5h3" stroke="#fff" stroke-width="1" shape-rendering="crispEdges"/>
<text x="1266" y="138.9" font-size="11" font-weight="bold" fill="#fff" textLength="32" lengthAdjust="spacingAndGlyphs">136.02</text>
<rect x="1258" y="143" width="45" height="16" fill="#ffff00"/>
<path d="M1258 150.5h3" stroke="#000" stroke-width="1" shape-rendering="crispEdges"/>
<text x="1266" y="154.9" font-size="11" font-weight="normal" fill="#000" textLength="32" lengthAdjust="spacingAndGlyphs">135.82</text>
<rect x="1258" y="159" width="45" height="16" fill="#00ff00"/>
<path d="M1258 166.5h3" stroke="#000" stroke-width="1" shape-rendering="crispEdges"/>
<text x="1266" y="170.9" font-size="11" font-weight="normal" fill="#000" textLength="32" lengthAdjust="spacingAndGlyphs">135.26</text>
<rect x="1258" y="175" width="45" height="16" fill="#e100ff"/>
<path d="M1258 182.5h3" stroke="#fff" stroke-width="1" shape-rendering="crispEdges"/>
<text x="1266" y="186.9" font-size="11" font-weight="bold" fill="#fff" textLength="32" lengthAdjust="spacingAndGlyphs">134.62</text>
<rect x="1258" y="459" width="51" height="16" fill="#ff0000"/>
<path d="M1258 466.5h3" stroke="#fff" stroke-width="1" shape-rendering="crispEdges"/>
<text x="1265.1" y="471" font-size="11.4" font-weight="bold" fill="#fff" textLength="39.8" lengthAdjust="spacingAndGlyphs">71.9516</text>
<rect x="1258" y="475" width="51" height="16" fill="#0000ff"/>
<path d="M1258 482.5h3" stroke="#fff" stroke-width="1" shape-rendering="crispEdges"/>
<text x="1265.1" y="487" font-size="11.4" font-weight="bold" fill="#fff" textLength="39.8" lengthAdjust="spacingAndGlyphs">65.8340</text>
<text x="20.3" y="417.1" font-size="22" font-weight="bold" fill="#000" stroke="#000" stroke-width="0.5" textLength="90.5" lengthAdjust="spacingAndGlyphs">Investing</text>
<text x="111.6" y="417.1" font-size="15.5" fill="#6a6a6a" textLength="28.6" lengthAdjust="spacingAndGlyphs">.com</text>
<circle cx="83.2" cy="401.9" r="1.9" fill="#ff9a00"/>
</svg></body></html>
